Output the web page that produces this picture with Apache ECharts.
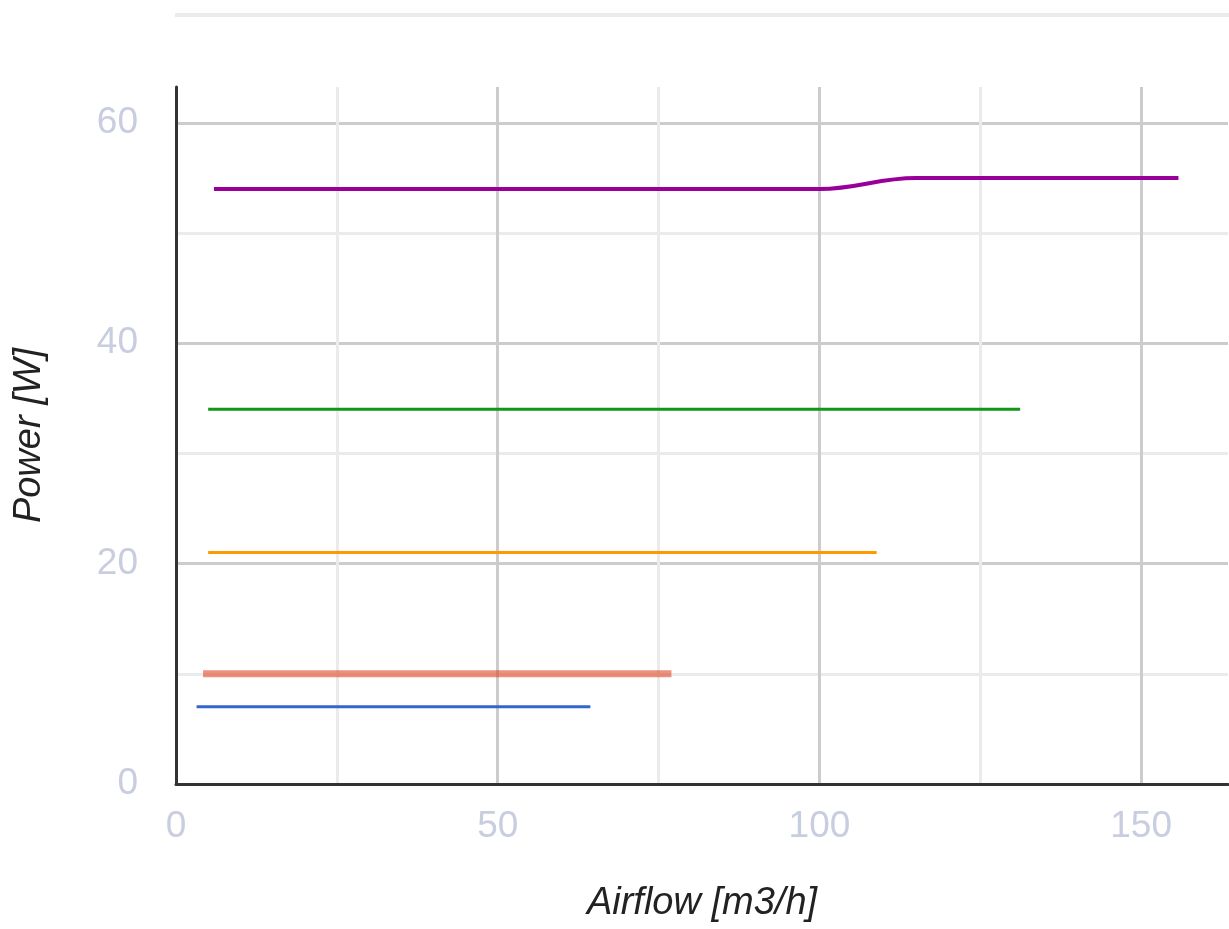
<!DOCTYPE html>
<html>
<head>
<meta charset="utf-8">
<script src="https://cdn.jsdelivr.net/npm/echarts@6/dist/echarts.min.js"></script>
<style>
html,body{margin:0;padding:0;background:#fff;}
#chart{width:1229px;height:929px;}
</style>
</head>
<body>
<div id="chart"></div>
<script>
// Data
const xTickValues = [0, 50, 100, 150];
const yTickValues = [0, 20, 40, 60];

const blueX = [3.2, 64.4];
const blueY = [7, 7];
const salmonX = [4.2, 77];
const salmonY = [10, 10];
const orangeX = [5, 108.9];
const orangeY = [21, 21];
const greenX = [5, 131.2];
const greenY = [34, 34];
const purpleX = [5.9, 100, 115, 155.8];
const purpleY = [54, 54, 55, 55];

function pairs(xs, ys) { return xs.map((x, i) => [x, ys[i]]); }

const chart = echarts.init(document.getElementById('chart'));
const labelStyle = { color: '#c9cde0', fontSize: 37, fontFamily: 'Liberation Sans, Arial, sans-serif' };
const nameStyle = { color: '#222', fontSize: 38, fontStyle: 'italic', fontFamily: 'Liberation Sans, Arial, sans-serif' };

chart.setOption({
  animation: false,
  backgroundColor: '#fff',
  grid: { left: 176, top: 87, right: 1, bottom: 145, containLabel: false },
  graphic: [{
    type: 'rect', left: 175, top: 13, silent: true,
    shape: { width: 1054, height: 4 }, style: { fill: '#ebebeb' }
  }],
  xAxis: {
    type: 'value', min: 0, max: 163.5, interval: 25,
    name: 'Airflow [m3/h]', nameLocation: 'middle', nameGap: 100, nameTextStyle: nameStyle,
    axisLine: { show: true, onZero: false, lineStyle: { color: '#333', width: 3 } },
    axisTick: { show: false },
    axisLabel: Object.assign({ margin: 24, showMaxLabel: false,
      formatter: v => xTickValues.includes(v) ? String(v) : '' }, labelStyle),
    splitLine: { show: true, showMaxLine: false, lineStyle: { color: ['#cccccc', '#ebebeb'], width: 3 } }
  },
  yAxis: {
    type: 'value', min: 0, max: 63.25, interval: 10,
    name: 'Power [W]', nameLocation: 'middle', nameGap: 128, nameTextStyle: nameStyle,
    axisLine: { show: true, onZero: false, lineStyle: { color: '#333', width: 3 } },
    axisTick: { show: false },
    axisLabel: Object.assign({ margin: 38, showMaxLabel: false,
      formatter: v => yTickValues.includes(v) ? String(v) : '' }, labelStyle),
    splitLine: { show: true, showMaxLine: false, lineStyle: { color: ['#cccccc', '#ebebeb'], width: 3 } }
  },
  series: [
    { name: 'Blue', type: 'line', data: pairs(blueX, blueY), showSymbol: false,
      lineStyle: { color: '#3366cc', width: 3 }, itemStyle: { color: '#3366cc' } },
    { name: 'Salmon', type: 'line', data: pairs(salmonX, salmonY), showSymbol: false,
      lineStyle: { color: 'rgba(220,57,18,0.55)', width: 7 }, itemStyle: { color: '#e8907a' } },
    { name: 'Orange', type: 'line', data: pairs(orangeX, orangeY), showSymbol: false,
      lineStyle: { color: '#ff9900', width: 3 }, itemStyle: { color: '#ff9900' } },
    { name: 'Green', type: 'line', data: pairs(greenX, greenY), showSymbol: false,
      lineStyle: { color: '#109618', width: 3 }, itemStyle: { color: '#109618' } },
    { name: 'Purple', type: 'line', data: pairs(purpleX, purpleY), showSymbol: false, smooth: 0.4,
      lineStyle: { color: '#990099', width: 4 }, itemStyle: { color: '#990099' } }
  ]
});
</script>
</body>
</html>
